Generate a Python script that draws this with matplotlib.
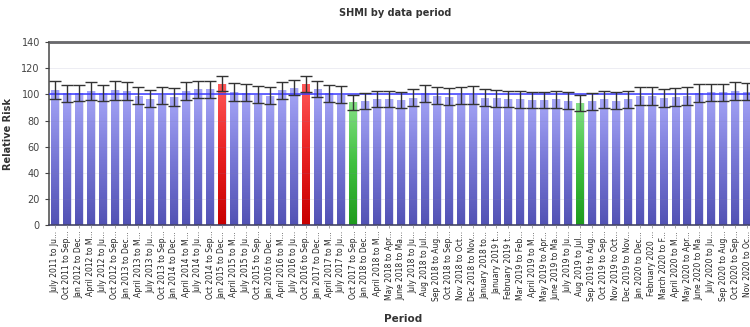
import numpy as np
import matplotlib.pyplot as plt
from matplotlib.colors import LinearSegmentedColormap

periods = ['July 2011 to Ju...', 'Oct 2011 to Sep...', 'Jan 2012 to Dec...', 'April 2012 to M...',
           'July 2012 to Ju...', 'Oct 2012 to Sep...', 'Jan 2013 to Dec...', 'April 2013 to M...',
           'July 2013 to Ju...', 'Oct 2013 to Sep...', 'Jan 2014 to Dec...', 'April 2014 to M...',
           'July 2014 to Ju...', 'Oct 2014 to Sep...', 'Jan 2015 to Dec...', 'April 2015 to M...',
           'July 2015 to Ju...', 'Oct 2015 to Sep...', 'Jan 2016 to Dec...', 'April 2016 to M...',
           'July 2016 to Ju...', 'Oct 2016 to Sep...', 'Jan 2017 to Dec...', 'April 2017 to M...',
           'July 2017 to Ju...', 'Oct 2017 to Sep...', 'Jan 2018 to Dec...', 'April 2018 to M...',
           'May 2018 to Apr...', 'June 2018 to Ma...', 'July 2018 to Ju...', 'Aug 2018 to Jul...',
           'Sep 2018 to Aug...', 'Oct 2018 to Sep...', 'Nov 2018 to Oct...', 'Dec 2018 to Nov...',
           'January 2018 to...', 'January 2019 t...', 'February 2019 t...', 'Mar 2019 to Feb...',
           'April 2019 to M...', 'May 2019 to Apr...', 'June 2019 to Ma...', 'July 2019 to Ju...',
           'Aug 2019 to Jul...', 'Sep 2019 to Aug...', 'Oct 2019 to Sep...', 'Nov 2019 to Oct...',
           'Dec 2019 to Nov...', 'Jan 2020 to Dec...', 'February 2020 ...', 'March 2020 to F...',
           'April 2020 to M...', 'May 2020 to Apr...', 'June 2020 to Ma...', 'July 2020 to Ju...',
           'Sep 2020 to Aug...', 'Oct 2020 to Sep...', 'Nov 2020 to Oc...']

risk = [103.3, 100.8, 101.0, 102.5, 101.0, 103.0, 102.5, 99.0, 96.5, 99.5,
        98.0, 102.7, 104.0, 104.0, 108.3, 102.0, 101.2, 99.9, 98.9, 103.2,
        105.2, 107.8, 104.2, 100.9, 99.9, 94.0, 95.0, 96.2, 96.2, 96.0,
        97.6, 100.9, 98.9, 98.1, 99.4, 99.6, 97.4, 97.0, 96.6, 96.3,
        95.6, 95.6, 96.3, 95.3, 93.5, 94.8, 96.3, 95.1, 96.3, 98.9,
        98.9, 97.4, 97.9, 98.9, 101.4, 101.7, 101.7, 102.8, 102.0]

err = [6.8, 6.5, 6.4, 7.0, 6.3, 7.0, 7.0, 6.4, 6.5, 6.5,
       6.5, 6.7, 6.4, 6.5, 5.8, 6.8, 6.4, 6.4, 6.4, 6.4,
       6.0, 6.0, 6.2, 6.4, 6.4, 5.6, 6.2, 6.2, 6.2, 6.2,
       6.6, 6.4, 6.4, 6.4, 6.4, 6.6, 6.4, 6.6, 6.2, 6.4,
       6.2, 6.2, 6.4, 6.4, 6.0, 6.4, 6.4, 6.6, 6.4, 6.9,
       6.9, 6.9, 6.9, 6.9, 6.9, 6.6, 6.6, 6.8, 6.6]

# significance flag: 1 = higher, -1 = lower, 0 = no difference
flag = [0] * len(risk)
flag[14] = 1
flag[21] = 1
flag[25] = -1
flag[44] = -1

baseline = 100

cmaps = {
    0: LinearSegmentedColormap.from_list('blue', ['#5252b4', '#7878d6', '#a6a6f8']),
    1: LinearSegmentedColormap.from_list('red', ['#c80000', '#e82020', '#ff5858']),
    -1: LinearSegmentedColormap.from_list('green', ['#1e9a1e', '#40c040', '#86e086']),
}

fig = plt.figure(figsize=(7.5, 3.27), dpi=100)
ax = fig.add_axes([0.0653, 0.311, 0.9387, 0.5605])

x = np.arange(len(risk))
bars = ax.bar(x, risk, width=0.66, color='none', edgecolor='#dcdcf0', linewidth=0.6, zorder=2)

grad = np.linspace(0, 1, 256).reshape(-1, 1)
for b, f in zip(bars, flag):
    x0, w, h = b.get_x(), b.get_width(), b.get_height()
    im = ax.imshow(grad, extent=(x0, x0 + w, 0, h), origin='lower', cmap=cmaps[f],
                   aspect='auto', zorder=2, interpolation='bilinear')
    im.set_clip_path(b)

ax.errorbar(x, risk, yerr=err, fmt='none', ecolor='#333333', elinewidth=1.0,
            capsize=4, capthick=1.0, zorder=4)
ax.axhline(baseline, color='#3a3aff', lw=1.3, zorder=3, alpha=0.85)

ax.set_xlim(-0.5, len(risk) - 0.5)
ax.set_ylim(0, 140)
ax.set_yticks(np.arange(0, 141, 20))
ax.yaxis.grid(True, color='#d8d8d8', lw=0.8, zorder=0)
ax.yaxis.grid(True, color='#8080b0', lw=0.4, alpha=0.25, zorder=3)
ax.set_axisbelow(False)
ax.tick_params(axis='y', labelsize=7, colors='#444444', length=3, width=0.8)
ax.tick_params(axis='x', length=2, width=0.6, color='#999999', pad=2)
ax.set_xticks(x)
ax.set_xticklabels(periods, rotation=90, fontsize=5.5, color='#222222')

ax.spines['right'].set_visible(False)
ax.spines['top'].set_color('#666666')
ax.spines['top'].set_linewidth(2)
ax.spines['left'].set_color('#555555')
ax.spines['left'].set_linewidth(1.2)
ax.spines['bottom'].set_color('#444466')
ax.spines['bottom'].set_linewidth(1.2)

ax.set_ylabel('Relative Risk', fontsize=7, fontweight='bold', color='#333333', labelpad=6)
fig.text(403 / 750, 1 - 319 / 327, 'Period', fontsize=7.5, fontweight='bold', color='#333333',
         ha='center', va='center')
fig.text(395 / 750, 1 - 13 / 327, 'SHMI by data period', fontsize=7, fontweight='bold',
         color='#333333', ha='center', va='center')

fig.savefig('out.png', dpi=100)
